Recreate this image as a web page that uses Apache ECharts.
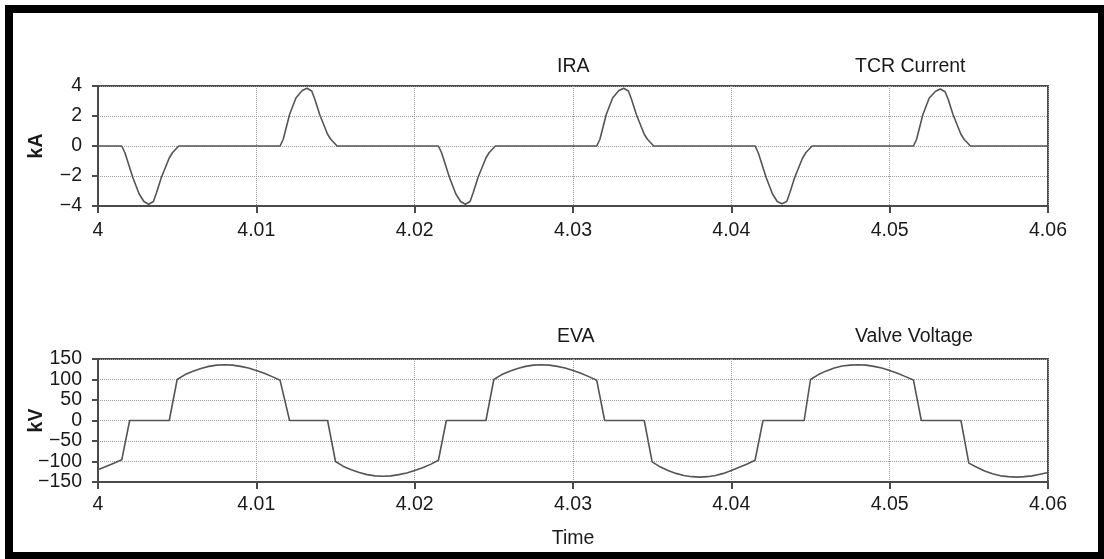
<!DOCTYPE html>
<html>
<head>
<meta charset="utf-8">
<script src="https://cdn.jsdelivr.net/npm/echarts@6/dist/echarts.min.js"></script>
<style>
html,body{margin:0;padding:0;background:#fff;}
#chart{width:1104px;height:559px;}
</style>
</head>
<body>
<div id="chart"></div>
<script>
// ---- data ----
const xTicks = [4, 4.01, 4.02, 4.03, 4.04, 4.05, 4.06];
const kaTicks = [-4, -2, 0, 2, 4];
const kvTicks = [-150, -100, -50, 0, 50, 100, 150];
const titlesTop = ['IRA', 'TCR Current'];
const titlesBottom = ['EVA', 'Valve Voltage'];

// TCR current (kA) vs time (s)
const iraPoints = [
  [4.0000, 0], [4.0015, 0], [4.0017, -0.45], [4.0022, -2.1], [4.0026, -3.2], [4.0029, -3.7],
  [4.0032, -3.88], [4.0035, -3.7], [4.0037, -3.1], [4.0040, -2.1], [4.0045, -0.8], [4.0047, -0.45], [4.0051, 0],
  [4.0115, 0], [4.0117, 0.45], [4.0121, 2.1], [4.0125, 3.2], [4.0129, 3.7],
  [4.0132, 3.85], [4.0135, 3.67], [4.0137, 3.1], [4.0140, 2.1], [4.0145, 0.78], [4.0147, 0.45], [4.0151, 0],
  [4.0215, 0], [4.0217, -0.45], [4.0222, -2.1], [4.0226, -3.2], [4.0229, -3.7],
  [4.0232, -3.88], [4.0235, -3.7], [4.0237, -3.1], [4.0240, -2.1], [4.0245, -0.8], [4.0247, -0.45], [4.0251, 0],
  [4.0315, 0], [4.0317, 0.45], [4.0321, 2.1], [4.0325, 3.2], [4.0329, 3.7],
  [4.0332, 3.85], [4.0335, 3.67], [4.0337, 3.1], [4.0340, 2.1], [4.0345, 0.78], [4.0347, 0.45], [4.0351, 0],
  [4.0415, 0], [4.0417, -0.45], [4.0422, -2.1], [4.0426, -3.2], [4.0429, -3.7],
  [4.0432, -3.85], [4.0435, -3.7], [4.0437, -3.1], [4.0440, -2.1], [4.0445, -0.8], [4.0447, -0.45], [4.0451, 0],
  [4.0515, 0], [4.0517, 0.45], [4.0521, 2.1], [4.0525, 3.2], [4.0529, 3.65],
  [4.0532, 3.8], [4.0535, 3.62], [4.0537, 3.1], [4.0540, 2.1], [4.0545, 0.78], [4.0547, 0.45], [4.0551, 0],
  [4.0600, 0]
];

// Valve voltage (kV) vs time (s)
const evaPoints = [
  [4.0000, -120], [4.0005, -112], [4.0010, -104], [4.0015, -96], [4.0020, 0],
  [4.0045, 0], [4.0050, 100], [4.0055, 112], [4.0060, 120], [4.0065, 127], [4.0070, 132], [4.0075, 135],
  [4.0080, 136], [4.0085, 135], [4.0090, 132], [4.0095, 128], [4.0100, 122], [4.0105, 115], [4.0110, 107], [4.0115, 98],
  [4.0121, 0], [4.0145, 0], [4.0150, -100], [4.0155, -112], [4.0160, -120], [4.0165, -127], [4.0170, -132], [4.0175, -135],
  [4.0180, -136], [4.0185, -135], [4.0190, -132], [4.0195, -128], [4.0200, -122], [4.0205, -115], [4.0210, -107], [4.0215, -97],
  [4.0220, 0], [4.0245, 0], [4.0250, 100], [4.0255, 112], [4.0260, 120], [4.0265, 127], [4.0270, 132], [4.0275, 135],
  [4.0280, 136], [4.0285, 135], [4.0290, 132], [4.0295, 128], [4.0300, 122], [4.0305, 115], [4.0310, 107], [4.0315, 98],
  [4.0320, 0], [4.0345, 0], [4.0350, -101], [4.0355, -113], [4.0360, -122], [4.0365, -129], [4.0370, -134], [4.0375, -137],
  [4.0380, -138], [4.0385, -137], [4.0390, -134], [4.0395, -129], [4.0400, -122], [4.0405, -114], [4.0410, -106], [4.0415, -97],
  [4.0420, 0], [4.0446, 0], [4.0450, 100], [4.0455, 112], [4.0460, 121], [4.0465, 128], [4.0470, 133], [4.0475, 135],
  [4.0480, 136], [4.0485, 135], [4.0490, 132], [4.0495, 128], [4.0500, 122], [4.0505, 115], [4.0510, 107], [4.0515, 99],
  [4.0520, 0], [4.0545, 0], [4.0550, -104], [4.0555, -114], [4.0560, -123], [4.0565, -130], [4.0570, -135], [4.0575, -137],
  [4.0580, -138], [4.0585, -137], [4.0590, -135], [4.0595, -131], [4.0600, -127]
];

// ---- chart ----
const FONT = "'Liberation Sans', Arial, sans-serif";
const FS = 19.5;
const TXT = '#1a1a1a';
const AX = '#4a4a4a';
const minus = s => String(s).replace('-', '\u2212');

function xAxisCfg(gridIndex, margin, extra) {
  return Object.assign({
    type: 'value', gridIndex: gridIndex, min: xTicks[0], max: xTicks[xTicks.length - 1], interval: 0.01,
    axisLine: { show: true, onZero: false, lineStyle: { color: AX, width: 2 } },
    axisTick: { show: true, length: 7, lineStyle: { color: AX, width: 2 } },
    axisLabel: {
      margin: margin, color: TXT, fontFamily: FONT, fontSize: FS, showMinLabel: true, showMaxLabel: true,
      formatter: v => { const t = xTicks.find(k => Math.abs(k - v) < 1e-6); return t === undefined ? '' : String(t); }
    },
    splitLine: { show: true, lineStyle: { color: '#9a9a9a', type: 'dotted', width: 1 } }
  }, extra || {});
}
function yAxisCfg(gridIndex, ticks, name) {
  return {
    type: 'value', gridIndex: gridIndex, min: ticks[0], max: ticks[ticks.length - 1], interval: ticks[1] - ticks[0],
    name: name, nameLocation: 'middle', nameGap: 51, nameMoveOverlap: false,
    nameTextStyle: { color: TXT, fontFamily: FONT, fontSize: FS, fontWeight: 'bold' },
    axisLine: { show: true, onZero: false, lineStyle: { color: AX, width: 2 } },
    axisTick: { show: true, length: 6, lineStyle: { color: AX, width: 2 } },
    axisLabel: {
      margin: 16, color: TXT, fontFamily: FONT, fontSize: FS, showMinLabel: true, showMaxLabel: true,
      formatter: v => minus(v)
    },
    splitLine: { show: true, lineStyle: { color: '#9a9a9a', type: 'dotted', width: 1 } }
  };
}
function titleText(x, y, text) {
  return { type: 'text', x: x, y: y, z: 10,
    style: { text: text, fill: TXT, font: FS + 'px ' + FONT, textAlign: 'left', textVerticalAlign: 'middle' } };
}

const chart = echarts.init(document.getElementById('chart'), null, { renderer: 'canvas' });
chart.setOption({
  backgroundColor: '#ffffff',
  animation: false,
  grid: [
    { left: 98, right: 56, top: 86, height: 120, show: true, borderColor: AX, borderWidth: 2, backgroundColor: 'transparent' },
    { left: 98, right: 56, top: 359, height: 123, show: true, borderColor: AX, borderWidth: 2, backgroundColor: 'transparent' }
  ],
  xAxis: [
    xAxisCfg(0, 15),
    xAxisCfg(1, 13, { name: 'Time', nameLocation: 'middle', nameGap: 47, nameMoveOverlap: false,
      nameTextStyle: { color: TXT, fontFamily: FONT, fontSize: FS } })
  ],
  yAxis: [
    yAxisCfg(0, kaTicks, 'kA'),
    yAxisCfg(1, kvTicks, 'kV')
  ],
  series: [
    { type: 'line', xAxisIndex: 0, yAxisIndex: 0, data: iraPoints, showSymbol: false,
      lineStyle: { color: '#555', width: 1.6 }, z: 5 },
    { type: 'line', xAxisIndex: 1, yAxisIndex: 1, data: evaPoints, showSymbol: false,
      lineStyle: { color: '#555', width: 1.6 }, z: 5 }
  ],
  graphic: [
    titleText(557, 67, titlesTop[0]),
    titleText(855, 67, titlesTop[1]),
    titleText(557, 337, titlesBottom[0]),
    titleText(855, 337, titlesBottom[1]),
    { type: 'rect', z: 100, silent: true,
      shape: { x: 9, y: 9, width: 1093, height: 547 },
      style: { fill: 'none', stroke: '#000', lineWidth: 8 } }
  ]
});
</script>
</body>
</html>
